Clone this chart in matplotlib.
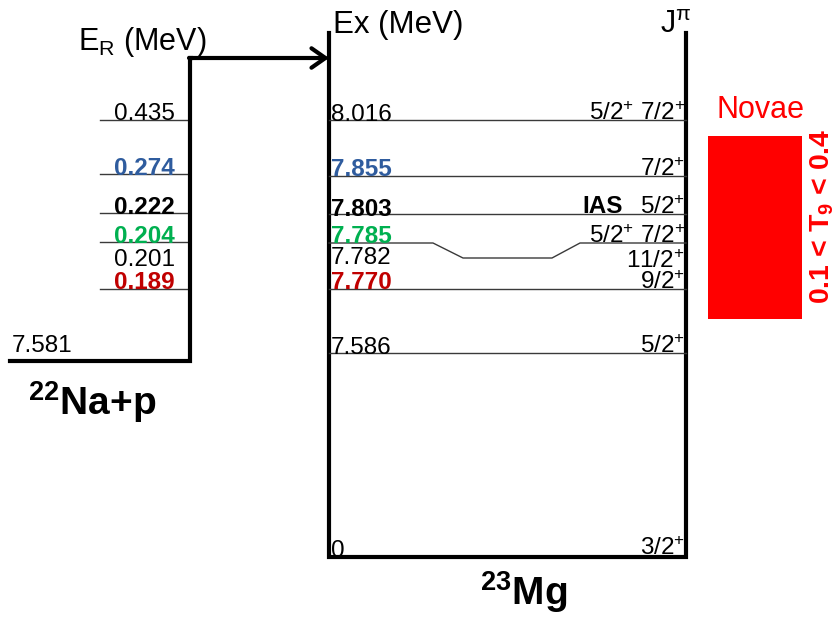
import matplotlib
matplotlib.use("Agg")
import matplotlib.pyplot as plt
from matplotlib.patches import Rectangle

plt.rcParams['font.family'] = ['Liberation Sans', 'DejaVu Sans']
plt.rcParams['mathtext.fontset'] = 'custom'
plt.rcParams['mathtext.rm'] = 'Liberation Sans'
plt.rcParams['mathtext.it'] = 'Liberation Sans:italic'
plt.rcParams['mathtext.bf'] = 'Liberation Sans:bold'

# data: resonance energies (22Na+p) and excitation energies (23Mg), MeV
res_labels = ["0.435", "0.274", "0.222", "0.204", "0.201", "0.189"]
ex_labels = ["8.016", "7.855", "7.803", "7.785", "7.782", "7.770", "7.586", "0"]
spin_labels = ["5/2$^{+}$ 7/2$^{+}$", "7/2$^{+}$", "5/2$^{+}$", "5/2$^{+}$ 7/2$^{+}$",
               "11/2$^{+}$", "9/2$^{+}$", "5/2$^{+}$", "3/2$^{+}$"]
threshold_label = "7.581"

# schematic layout (pixel rows, not to scale)
res_line_rows = [120, 174, 213, 242, None, 289]
res_text_rows = [120, 175, 214, 243, 266, 289]
ex_line_rows = [120, 176, 214, 243, 258, 289, 353, 557]
ex_text_rows = [121, 176, 216, 243, 264, 289, 354, 557]
spin_text_rows = [120, 176, 214, 243, 268, 289, 353, 555]

blue, green, red = '#2F5C9E', '#00B050', '#C00000'
res_colors = ['k', blue, 'k', green, 'k', red]
res_weights = ['normal', 'bold', 'bold', 'bold', 'normal', 'bold']
ex_colors = ['k', blue, 'k', green, 'k', red, 'k', 'k']
ex_weights = ['normal', 'bold', 'bold', 'bold', 'normal', 'bold', 'normal', 'normal']

fig = plt.figure(figsize=(8.38, 6.2), dpi=100)
ax = fig.add_axes([0, 0, 1, 1])
ax.set_xlim(0, 838)
ax.set_ylim(620, 0)
ax.axis('off')

lc = '#3a3a3a'
fs = 17.5

# left side: 22Na+p
for lab, lrow, trow, c, w in zip(res_labels, res_line_rows, res_text_rows, res_colors, res_weights):
    if lrow is not None:
        ax.plot([100, 190], [lrow, lrow], color=lc, lw=1)
    ax.text(175, trow, lab, color=c, fontweight=w, fontsize=fs, ha='right', va='baseline')

ax.plot([10, 190, 190, 191], [361, 361, 58, 58], color='k', lw=3, solid_joinstyle='miter')
ax.annotate('', xy=(329, 58), xytext=(189, 58),
            arrowprops=dict(arrowstyle='->,head_length=0.5,head_width=0.35', lw=3,
                            color='k', shrinkA=0, shrinkB=0, mutation_scale=20))
ax.text(12, 352, threshold_label, fontsize=fs, ha='left', va='baseline')
ax.text(78, 50, r'E$_{\mathrm{R}}$ (MeV)', fontsize=22, ha='left', va='baseline')
ax.text(28, 415, r'$^{\mathbf{22}}$Na+p', fontsize=28, fontweight='bold', ha='left', va='baseline')

# 23Mg levels
ax.plot([329, 329, 686, 686], [33, 557, 557, 33], color='k', lw=3, solid_joinstyle='miter')
for i, row in enumerate(ex_line_rows):
    if i == 3:
        ax.plot([329, 433, 463, 552, 580, 686],
                [row, row, ex_line_rows[4], ex_line_rows[4], row, row], color=lc, lw=1)
    elif i == 4 or i == 7:
        continue
    else:
        ax.plot([329, 686], [row, row], color=lc, lw=1)

for lab, trow, c, w in zip(ex_labels, ex_text_rows, ex_colors, ex_weights):
    ax.text(331, trow, lab, color=c, fontweight=w, fontsize=fs, ha='left', va='baseline')
for lab, trow in zip(spin_labels, spin_text_rows):
    ax.text(685, trow, lab, fontsize=fs, ha='right', va='baseline')
ax.text(623, 213, 'IAS', fontsize=fs, fontweight='bold', ha='right', va='baseline')

ax.text(333, 33, 'Ex (MeV)', fontsize=22.5, ha='left', va='baseline')
ax.text(660, 33, r'J$^{\mathrm{\pi}}$', fontsize=22, ha='left', va='baseline')
ax.text(480, 605, r'$^{\mathbf{23}}$Mg', fontsize=28, fontweight='bold', ha='left', va='baseline')

# Novae window
ax.add_patch(Rectangle((708, 136), 94, 183, color='#FF0000', lw=0))
ax.text(760, 118, 'Novae', color='#FF0000', fontsize=22, ha='center', va='baseline')
ax.text(822, 216, r'0.1 < T$_{\mathbf{9}}$ < 0.4', color='#FF0000', fontsize=20.5,
        fontweight='bold', rotation=90, ha='center', va='center')

fig.savefig('out.png', dpi=100)
